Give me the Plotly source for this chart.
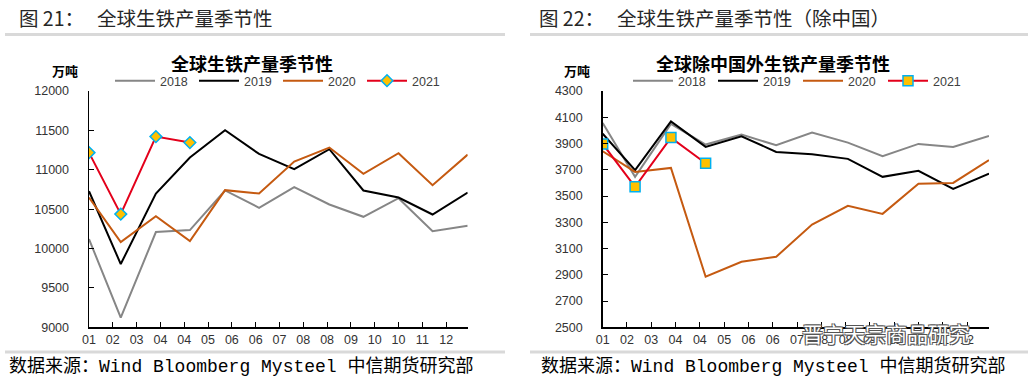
import plotly.graph_objects as go
import pandas as pd

W, H = 1029, 382

# month-end dates (seasonal x positions)
months = ["2021-01-31", "2021-02-28", "2021-03-31", "2021-04-30", "2021-05-31", "2021-06-30",
          "2021-07-31", "2021-08-31", "2021-09-30", "2021-10-31", "2021-11-30", "2021-12-31"]
years = ["2018", "2019", "2020", "2021"]
# x tick labels (date axis, one tick every 21 days starting at the first point)
tick_labels = ["01", "02", "03", "04", "04", "05", "06", "06", "07", "08", "08", "09", "10", "10", "11", "12"]

# 全球生铁产量 (万吨)
glob_2018 = [10120, 9123, 10209, 10234, 10737, 10517, 10779, 10559, 10403, 10639, 10221, 10289]
glob_2019 = [10728, 9803, 10699, 11155, 11501, 11201, 11007, 11261, 10737, 10648, 10432, 10711]
glob_2020 = [10648, 10082, 10411, 10094, 10741, 10699, 11104, 11282, 10948, 11210, 10804, 11193]
glob_2021 = [11218, 10437, 11421, 11345]

# 全球除中国外生铁产量 (万吨)
exc_2018 = [4057, 3646, 4050, 3892, 3968, 3887, 3983, 3907, 3803, 3897, 3874, 3958]
exc_2019 = [3975, 3697, 4069, 3874, 3955, 3836, 3818, 3783, 3646, 3692, 3555, 3671]
exc_2020 = [3841, 3684, 3714, 2885, 2999, 3037, 3283, 3425, 3364, 3593, 3600, 3773]
exc_2021 = [3897, 3570, 3945, 3750]

colors = {"2018": "#868686", "2019": "#000000", "2020": "#C55A11", "2021": "#E3001B"}

tick_dates = pd.date_range(months[0], periods=len(tick_labels), freq="21D").strftime("%Y-%m-%d").tolist()


def px(x):
    return x / W


def py(y):
    return 1 - y / H


fig = go.Figure()

left = [glob_2018, glob_2019, glob_2020, glob_2021]
right = [exc_2018, exc_2019, exc_2020, exc_2021]

for i, yr in enumerate(years):
    mk = dict(symbol="diamond", size=9, color="#FFC000", line=dict(color="#00B0F0", width=1.5))
    fig.add_trace(go.Scatter(
        x=months[:len(left[i])], y=left[i], name=yr, xaxis="x", yaxis="y",
        mode="lines+markers" if yr == "2021" else "lines",
        line=dict(color=colors[yr], width=2), marker=mk if yr == "2021" else None,
        legend="legend"))
for i, yr in enumerate(years):
    mk = dict(symbol="square", size=10, color="#FFC000", line=dict(color="#00B0F0", width=1.5))
    fig.add_trace(go.Scatter(
        x=months[:len(right[i])], y=right[i], name=yr, xaxis="x2", yaxis="y2",
        mode="lines+markers" if yr == "2021" else "lines",
        line=dict(color=colors[yr], width=2), marker=mk if yr == "2021" else None,
        legend="legend2"))

tickfont = dict(family="Liberation Sans, Arial", size=12.5, color="#333333")
ydom = [py(327.3), py(91)]

xcommon = dict(type="date", range=[months[0], months[-1]], tickmode="array",
               tickvals=tick_dates, ticktext=tick_labels, ticks="inside", ticklen=5,
               tickcolor="#000", showline=True, linecolor="#000", linewidth=1.5,
               showgrid=False, zeroline=False, tickfont=tickfont, automargin=False)
ycommon = dict(ticks="inside", ticklen=5, tickcolor="#000", showline=True,
               linecolor="#000", linewidth=1.5, showgrid=False, zeroline=False,
               tickfont=tickfont, ticklabelstandoff=16, tickformat="d", automargin=False)

legfont = dict(family="Liberation Sans, Arial", size=12.5, color="#404040")
fig.update_layout(
    width=W, height=H, margin=dict(l=0, r=0, t=0, b=0, pad=0, autoexpand=False),
    paper_bgcolor="white", plot_bgcolor="white", hovermode=False,
    xaxis=dict(domain=[px(89), px(467.7)], anchor="y", **xcommon),
    yaxis=dict(domain=ydom, anchor="x", range=[9000, 12000], tick0=9000, dtick=500, **ycommon),
    xaxis2=dict(domain=[px(602.7), px(989)], anchor="y2", **xcommon),
    yaxis2=dict(domain=ydom, anchor="x2", range=[2500, 4300], tick0=2500, dtick=200, **ycommon),
    legend=dict(orientation="h", x=px(110), y=py(81), xanchor="left", yanchor="middle",
                entrywidth=29, entrywidthmode="pixels", itemwidth=40, bgcolor="rgba(0,0,0,0)",
                font=legfont, traceorder="normal"),
    legend2=dict(orientation="h", x=px(628), y=py(81), xanchor="left", yanchor="middle",
                 entrywidth=30, entrywidthmode="pixels", itemwidth=40, bgcolor="rgba(0,0,0,0)",
                 font=legfont, traceorder="normal"),
)

cjk = "Noto Sans CJK SC"
sp = "\u00a0"
ann = []
ann.append(dict(text="图" + sp + "21：" + sp * 3 + "全球生铁产量季节性", x=px(17), y=py(17),
                xanchor="left", yanchor="middle",
                font=dict(family=cjk, size=19.5, color="#262626")))
ann.append(dict(text="图" + sp + "22：" + sp * 3 + "全球生铁产量季节性（除中国）", x=px(537), y=py(17),
                xanchor="left", yanchor="middle",
                font=dict(family=cjk, size=19.5, color="#262626")))
ann.append(dict(text="<b>全球生铁产量季节性</b>", x=px(252), y=py(63), xanchor="center", yanchor="middle",
                font=dict(family=cjk, size=18, color="#000")))
ann.append(dict(text="<b>全球除中国外生铁产量季节性</b>", x=px(773), y=py(63), xanchor="center", yanchor="middle",
                font=dict(family=cjk, size=18, color="#000")))
ann.append(dict(text="<b>万吨</b>", x=px(65), y=py(70), xanchor="center", yanchor="middle",
                font=dict(family=cjk, size=13, color="#000")))
ann.append(dict(text="<b>万吨</b>", x=px(577), y=py(70), xanchor="center", yanchor="middle",
                font=dict(family=cjk, size=13, color="#000")))
src = "数据来源：Wind Bloomberg Mysteel 中信期货研究部"
srcfont = dict(family="Liberation Mono, " + cjk, size=18, color="#000")
ann.append(dict(text=src, x=px(7), y=py(366), xanchor="left", yanchor="middle", font=srcfont))
ann.append(dict(text=src, x=px(539), y=py(366), xanchor="left", yanchor="middle", font=srcfont))
ann.append(dict(text="晋宁天宗商品研究", x=px(800), y=py(333), xanchor="left", yanchor="middle",
                font=dict(family=cjk, size=21, color="white",
                          shadow="1px 1px 0 #555, -1px -1px 0 #555, 1px -1px 0 #555, -1px 1px 0 #555")))
for a in ann:
    a.update(xref="paper", yref="paper", showarrow=False)
fig.update_layout(annotations=ann)

shapes = []
for x0, x1 in [(5, 505), (530, 1028)]:
    for yy in (34.5, 352):
        shapes.append(dict(type="line", xref="paper", yref="paper", x0=px(x0), x1=px(x1),
                           y0=py(yy), y1=py(yy), line=dict(color="#d9d9d9", width=3)))
fig.update_layout(shapes=shapes)

fig.write_html("out.html", config={"displayModeBar": False, "staticPlot": True},
               post_script="document.body.style.margin='0';")
